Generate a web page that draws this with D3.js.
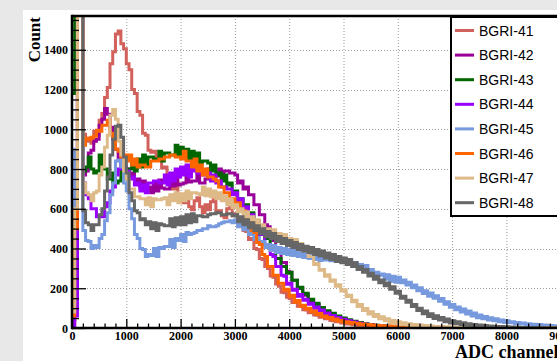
<!DOCTYPE html>
<html>
<head>
<meta charset="utf-8">
<script src="https://cdn.jsdelivr.net/npm/d3@7/dist/d3.min.js"></script>
<style>
  html, body { margin: 0; padding: 0; background: #e8e8e8; }
  svg { display: block; }
</style>
</head>
<body>
<svg id="chart" width="557" height="361"></svg>
<script>
// ADC spectra, counts per 50-channel bin (bin i covers [50*i, 50*i+50)); one row = 1000 channels
const binWidth = 50;

const seriesNames = ["BGRI-41", "BGRI-42", "BGRI-43", "BGRI-44", "BGRI-45", "BGRI-46", "BGRI-47", "BGRI-48"];

const counts41 = [
  20, 300, 2600, 2600, 975, 940, 955, 930, 990, 970, 1045, 1080, 1160, 1210, 1330, 1390, 1480, 1495, 1430, 1405,
  1330, 1300, 1200, 1180, 1090, 1070, 980, 970, 895, 885, 890, 850, 860, 805, 810, 760, 750, 700, 710, 665,
  670, 630, 655, 610, 595, 640, 655, 610, 580, 620, 595, 635, 645, 590, 590, 565, 555, 600, 605, 565,
  575, 535, 540, 490, 485, 445, 450, 400, 395, 350, 345, 310, 300, 262, 255, 222, 210, 180, 178, 155,
  148, 128, 128, 110, 108, 92, 90, 77, 77, 65, 64, 54, 54, 46, 46, 38, 37, 31, 31, 25,
  25, 20, 21, 16, 17, 13, 14, 10, 11, 8, 9, 6, 7, 5, 5, 3, 4, 2, 3, 2,
  2, 1, 1, 1, 1, 1, 0, 0, 0, 0, 0, 0, 0, 0, 0, 0, 0, 0, 0, 0,
  0, 0, 0, 0, 0, 0, 0, 0, 0, 0, 0, 0, 0, 0, 0, 0, 0, 0, 0, 0,
  0, 0, 0, 0, 0, 0, 0, 0, 0, 0, 0, 0, 0, 0, 0, 0, 0, 0, 0, 0
];
const counts42 = [
  40, 150, 2600, 2600, 770, 790, 880, 895, 940, 950, 1020, 1050, 1105, 1075, 1010, 950, 900, 850, 840, 800,
  800, 760, 780, 735, 750, 710, 740, 695, 710, 680, 730, 690, 745, 705, 700, 700, 750, 715, 760, 720,
  725, 730, 780, 735, 740, 740, 780, 730, 730, 750, 800, 750, 760, 765, 800, 745, 790, 790, 780, 780,
  770, 730, 740, 700, 710, 670, 670, 620, 620, 570, 570, 520, 510, 450, 440, 390, 380, 330, 330, 285,
  280, 240, 240, 200, 200, 165, 168, 138, 142, 114, 118, 95, 98, 79, 81, 64, 66, 52, 54, 42,
  45, 35, 37, 28, 30, 23, 24, 18, 19, 14, 15, 11, 12, 8, 9, 6, 7, 5, 5, 4,
  4, 3, 3, 2, 2, 2, 1, 1, 1, 1, 1, 0, 0, 0, 0, 0, 0, 0, 0, 0,
  0, 0, 0, 0, 0, 0, 0, 0, 0, 0, 0, 0, 0, 0, 0, 0, 0, 0, 0, 0,
  0, 0, 0, 0, 0, 0, 0, 0, 0, 0, 0, 0, 0, 0, 0, 0, 0, 0, 0, 0
];
const counts43 = [
  1180, 2600, 2600, 2600, 790, 810, 860, 800, 780, 790, 870, 810, 800, 750, 780, 730, 730, 740, 790, 750,
  800, 800, 840, 790, 850, 810, 870, 820, 860, 860, 850, 850, 890, 840, 880, 880, 870, 870, 920, 870,
  910, 860, 900, 850, 890, 840, 880, 830, 840, 840, 830, 790, 820, 770, 780, 740, 770, 720, 730, 690,
  690, 650, 650, 610, 620, 580, 580, 540, 540, 500, 500, 450, 450, 400, 390, 350, 350, 310, 310, 275,
  280, 240, 240, 200, 205, 170, 175, 140, 145, 115, 125, 97, 103, 82, 87, 68, 74, 57, 61, 47,
  50, 38, 42, 31, 34, 25, 28, 20, 22, 16, 18, 12, 14, 10, 11, 8, 9, 6, 7, 5,
  5, 4, 4, 3, 3, 2, 2, 2, 1, 1, 1, 1, 0, 0, 0, 0, 0, 0, 0, 0,
  0, 0, 0, 0, 0, 0, 0, 0, 0, 0, 0, 0, 0, 0, 0, 0, 0, 0, 0, 0,
  0, 0, 0, 0, 0, 0, 0, 0, 0, 0, 0, 0, 0, 0, 0, 0, 0, 0, 0, 0
];
const counts44 = [
  10, 60, 2600, 2600, 730, 670, 650, 600, 600, 560, 565, 560, 610, 630, 690, 710, 770, 800, 855, 815,
  790, 750, 760, 720, 730, 690, 720, 680, 730, 730, 740, 740, 730, 730, 770, 720, 780, 740, 800, 760,
  810, 770, 820, 760, 800, 790, 780, 780, 770, 770, 780, 740, 770, 730, 740, 710, 710, 700, 700, 670,
  680, 640, 650, 600, 610, 570, 570, 520, 520, 470, 470, 420, 420, 370, 360, 310, 310, 265, 260, 220,
  225, 190, 195, 160, 168, 140, 145, 120, 125, 100, 106, 86, 90, 70, 75, 58, 63, 48, 53, 40,
  44, 32, 36, 27, 30, 21, 24, 17, 19, 13, 15, 10, 11, 8, 9, 6, 7, 4, 5, 3,
  3, 3, 2, 2, 2, 1, 1, 1, 1, 0, 0, 0, 0, 0, 0, 0, 0, 0, 0, 0,
  0, 0, 0, 0, 0, 0, 0, 0, 0, 0, 0, 0, 0, 0, 0, 0, 0, 0, 0, 0,
  0, 0, 0, 0, 0, 0, 0, 0, 0, 0, 0, 0, 0, 0, 0, 0, 0, 0, 0, 0
];
const counts45 = [
  120, 900, 2600, 2600, 490, 440, 435, 400, 415, 405, 450, 470, 540, 580, 670, 730, 840, 845, 810, 730,
  690, 600, 550, 470, 450, 400, 395, 360, 370, 365, 400, 360, 405, 400, 410, 410, 445, 405, 450, 440,
  470, 435, 480, 470, 475, 480, 490, 490, 500, 500, 515, 510, 510, 515, 525, 530, 535, 535, 540, 530,
  545, 510, 535, 495, 510, 470, 480, 445, 455, 420, 435, 405, 420, 390, 415, 380, 405, 375, 400, 370,
  395, 365, 390, 360, 385, 355, 380, 350, 375, 345, 372, 340, 368, 342, 370, 338, 365, 335, 360, 335,
  350, 335, 340, 325, 330, 315, 320, 290, 315, 280, 295, 270, 280, 265, 272, 245, 268, 235, 260, 230,
  255, 228, 242, 216, 230, 202, 216, 188, 202, 174, 188, 160, 176, 150, 162, 135, 148, 120, 132, 105,
  118, 92, 106, 80, 96, 70, 86, 60, 76, 52, 66, 46, 58, 40, 52, 36, 46, 32, 40, 28,
  36, 26, 32, 22, 28, 20, 25, 17, 22, 15, 19, 13, 17, 11, 15, 10, 13, 8, 11, 7
];
const counts46 = [
  60, 500, 2600, 2600, 920, 955, 950, 960, 965, 995, 990, 1020, 1020, 1045, 980, 960, 900, 890, 860, 870,
  840, 870, 820, 850, 810, 820, 820, 810, 810, 840, 840, 840, 850, 850, 860, 860, 870, 870, 860, 860,
  850, 890, 840, 840, 810, 850, 790, 820, 770, 800, 760, 760, 750, 740, 710, 710, 680, 680, 650, 650,
  630, 630, 590, 590, 550, 540, 490, 480, 430, 420, 370, 360, 310, 310, 265, 265, 225, 225, 190, 195,
  160, 165, 130, 138, 110, 115, 95, 100, 80, 85, 68, 73, 56, 61, 48, 53, 40, 45, 34, 38,
  28, 32, 24, 28, 21, 24, 17, 20, 14, 17, 12, 15, 10, 13, 9, 11, 7, 10, 6, 8,
  5, 7, 4, 6, 3, 5, 3, 4, 2, 4, 2, 3, 1, 3, 1, 2, 1, 2, 1, 1,
  1, 1, 1, 1, 0, 0, 0, 0, 0, 0, 0, 0, 0, 0, 0, 0, 0, 0, 0, 0,
  0, 0, 0, 0, 0, 0, 0, 0, 0, 0, 0, 0, 0, 0, 0, 0, 0, 0, 0, 0
];
const counts47 = [
  80, 600, 2600, 2600, 730, 680, 670, 640, 680, 690, 770, 810, 910, 970, 1070, 1100, 1050, 940, 870, 790,
  750, 700, 700, 660, 660, 650, 650, 620, 655, 610, 650, 645, 645, 650, 655, 620, 670, 640, 680, 630,
  675, 640, 690, 650, 680, 680, 675, 670, 710, 665, 700, 660, 690, 650, 680, 640, 665, 620, 650, 605,
  620, 585, 600, 560, 585, 545, 560, 520, 545, 505, 520, 485, 500, 470, 495, 460, 475, 445, 470, 435,
  450, 420, 445, 410, 425, 390, 400, 360, 360, 320, 325, 290, 295, 260, 268, 235, 242, 210, 218, 186,
  192, 158, 165, 132, 140, 108, 118, 88, 98, 70, 82, 58, 68, 46, 56, 36, 46, 28, 38, 22,
  32, 18, 27, 15, 22, 12, 18, 10, 15, 8, 12, 7, 10, 6, 8, 5, 7, 4, 6, 3,
  5, 3, 4, 2, 3, 2, 3, 1, 2, 1, 1, 1, 1, 0, 0, 0, 0, 0, 0, 0,
  0, 0, 0, 0, 0, 0, 0, 0, 0, 0, 0, 0, 0, 0, 0, 0, 0, 0, 0, 0
];
const counts48 = [
  1700, 2600, 2600, 2600, 590, 530, 520, 490, 520, 520, 570, 600, 690, 760, 870, 950, 1015, 1020, 960, 860,
  780, 680, 640, 590, 580, 545, 550, 520, 535, 500, 530, 490, 525, 520, 515, 515, 550, 510, 555, 520,
  560, 520, 570, 530, 575, 535, 565, 565, 560, 560, 570, 575, 575, 580, 580, 570, 570, 575, 575, 565,
  570, 535, 560, 520, 545, 505, 530, 490, 515, 475, 500, 460, 485, 450, 475, 435, 460, 425, 450, 415,
  440, 405, 430, 395, 420, 388, 412, 380, 405, 370, 395, 362, 388, 352, 378, 345, 370, 335, 360, 328,
  352, 320, 345, 310, 328, 295, 310, 280, 295, 262, 275, 245, 260, 228, 242, 212, 226, 195, 208, 175,
  185, 150, 160, 130, 140, 108, 118, 88, 100, 72, 85, 58, 72, 48, 62, 40, 53, 32, 45, 25,
  36, 22, 31, 18, 27, 14, 22, 11, 18, 9, 15, 7, 12, 6, 10, 5, 8, 4, 7, 3,
  6, 2, 5, 2, 4, 1, 3, 1, 2, 1, 2, 1, 1, 1, 0, 0, 0, 0, 0, 0
];

const seriesCounts = [counts41, counts42, counts43, counts44, counts45, counts46, counts47, counts48];
const seriesColors = ["#d2605b", "#990099", "#006600", "#9900ff", "#7799dd", "#ff6600", "#ddba87", "#666666"];

const xTickValues = [0, 1000, 2000, 3000, 4000, 5000, 6000, 7000, 8000, 9000];
const yTickValues = [0, 200, 400, 600, 800, 1000, 1200, 1400];

const xAxisTitle = "ADC channel";
const yAxisTitle = "Count";

// ---- layout ----
const W = 557, H = 361;
const plot = { left: 72, top: 16, right: 615, bottom: 328 };
const serif = "'Liberation Serif', 'Times New Roman', serif";
const sans = "'Liberation Sans', Arial, Helvetica, sans-serif";

const svg = d3.select("#chart");

// canvas
svg.append("rect").attr("x", 0).attr("y", 0).attr("width", W).attr("height", H).attr("fill", "#e8e8e8");
svg.append("rect").attr("x", 23).attr("y", 10).attr("width", W - 23).attr("height", H - 10).attr("fill", "#ffffff");

const x = d3.scaleLinear().domain([0, 10000]).range([plot.left, plot.right]);
const y = d3.scaleLinear().domain([0, 1570]).range([plot.bottom, plot.top]);

svg.append("clipPath").attr("id", "plot-clip")
  .append("rect")
  .attr("x", plot.left).attr("y", plot.top)
  .attr("width", plot.right - plot.left).attr("height", plot.bottom - plot.top);

// grid
const grid = svg.append("g").attr("stroke", "#9a9a9a").attr("stroke-width", 1).attr("stroke-dasharray", "1,2");
grid.selectAll("line.gx").data(xTickValues.filter(d => d > 0)).join("line")
  .attr("x1", d => x(d) + 0.5).attr("x2", d => x(d) + 0.5)
  .attr("y1", plot.top).attr("y2", plot.bottom);
grid.selectAll("line.gy").data(yTickValues.filter(d => d > 0)).join("line")
  .attr("x1", plot.left).attr("x2", plot.right)
  .attr("y1", d => Math.round(y(d)) + 0.5).attr("y2", d => Math.round(y(d)) + 0.5);

// histograms, drawn as steps in series order
const step = d3.line().x(d => x(d[0])).y(d => y(d[1])).curve(d3.curveStepAfter);
const hists = svg.append("g").attr("clip-path", "url(#plot-clip)");
seriesCounts.forEach((counts, s) => {
  const pts = counts.map((c, i) => [i * binWidth, c]);
  pts.push([counts.length * binWidth, counts[counts.length - 1]]);
  hists.append("path")
    .attr("d", step(pts))
    .attr("fill", "none")
    .attr("stroke", seriesColors[s])
    .attr("stroke-width", 3)
    .attr("stroke-linejoin", "miter");
});

// axes
const xMinor = d3.range(0, 10001, 200).filter(d => d % 1000 !== 0);
const yMinor = d3.range(0, 1551, 50).filter(d => d % 200 !== 0);

svg.append("g").attr("transform", `translate(0,${plot.bottom})`)
  .call(d3.axisBottom(x).tickValues(xTickValues).tickSize(-9).tickPadding(3).tickFormat(d3.format("d")));
svg.append("g").attr("transform", `translate(0,${plot.bottom})`)
  .call(d3.axisBottom(x).tickValues(xMinor).tickSize(-4.5).tickFormat(""));
const yAxis = svg.append("g").attr("transform", `translate(${plot.left},0)`)
  .call(d3.axisLeft(y).tickValues(yTickValues).tickSize(-14).tickPadding(4).tickFormat(d3.format("d")));
svg.append("g").attr("transform", `translate(${plot.left},0)`)
  .call(d3.axisLeft(y).tickValues(yMinor).tickSize(-7).tickFormat(""));

svg.selectAll(".domain").remove();
svg.selectAll(".tick line").attr("stroke", "#000").attr("stroke-width", 1.3);
svg.selectAll(".tick text")
  .attr("font-family", serif).attr("font-weight", "bold").attr("font-size", 12).attr("fill", "#000");
yAxis.selectAll(".tick text").attr("dy", "0.35em");

// frame
const frame = svg.append("g").attr("stroke", "#000").attr("stroke-width", 2.5).attr("fill", "none");
frame.append("line").attr("x1", plot.left).attr("x2", W + 5).attr("y1", plot.top).attr("y2", plot.top);
frame.append("line").attr("x1", plot.left).attr("x2", plot.left).attr("y1", plot.top - 1.2).attr("y2", plot.bottom + 1.2);
frame.append("line").attr("x1", plot.left).attr("x2", W + 5).attr("y1", plot.bottom).attr("y2", plot.bottom);

// axis titles
svg.append("text")
  .attr("x", 455).attr("y", 358)
  .attr("font-family", serif).attr("font-weight", "bold").attr("font-size", 18)
  .text(xAxisTitle);
svg.append("text")
  .attr("transform", "translate(40,17) rotate(-90)")
  .attr("text-anchor", "end")
  .attr("font-family", serif).attr("font-weight", "bold").attr("font-size", 17)
  .text(yAxisTitle);

// legend
const legend = svg.append("g");
legend.append("rect")
  .attr("x", 451).attr("y", 17).attr("width", 160).attr("height", 199)
  .attr("fill", "#fff").attr("stroke", "#000").attr("stroke-width", 2);
seriesNames.forEach((name, i) => {
  const cy = 30.5 + i * 24.6;
  legend.append("line")
    .attr("x1", 455).attr("x2", 474).attr("y1", cy).attr("y2", cy)
    .attr("stroke", seriesColors[i]).attr("stroke-width", 3);
  legend.append("text")
    .attr("x", 479).attr("y", cy).attr("dy", "0.36em")
    .attr("font-family", sans).attr("font-size", 14).attr("fill", "#000")
    .text(name);
});
</script>
</body>
</html>
